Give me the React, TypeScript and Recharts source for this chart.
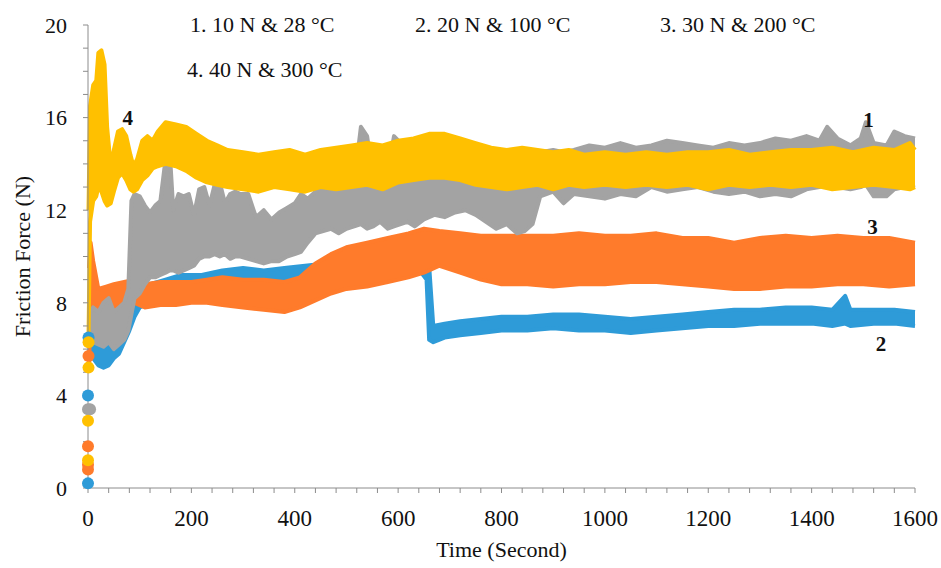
import { ComposedChart, Area, Scatter, XAxis, YAxis, ReferenceDot, Label } from 'recharts'

const FONT = "'Liberation Serif', 'Times New Roman', serif"
const BLUE = '#2e9bd8'
const ORANGE = '#ff7b2b'
const GRAY = '#a3a3a3'
const YELLOW = '#ffc000'
const AXIS = '#8c8c8c'

// series 2 (blue) : 20 N & 100 °C
const blueT = [2, 10, 20, 30, 40, 50, 60, 70, 80, 90, 100, 120, 150, 180, 220, 260, 300, 340, 380, 420, 460, 500, 540, 580, 620, 645, 655, 660, 668, 690, 720, 760, 800, 850, 900, 950, 1000, 1050, 1100, 1150, 1200, 1250, 1300, 1350, 1400, 1440, 1465, 1475, 1520, 1560, 1600]
const blueLo = [6.0, 5.6, 5.3, 5.2, 5.3, 5.6, 5.8, 6.3, 6.8, 7.4, 7.8, 8.0, 8.2, 8.4, 8.5, 8.7, 8.7, 8.6, 8.8, 9.0, 9.1, 9.1, 9.2, 9.3, 9.3, 9.3, 9.0, 6.4, 6.3, 6.5, 6.6, 6.7, 6.8, 6.8, 6.9, 6.8, 6.8, 6.7, 6.8, 6.9, 7.0, 7.0, 7.1, 7.1, 7.1, 7.0, 7.1, 7.0, 7.1, 7.1, 7.0]
const blueHi = [6.8, 6.6, 6.3, 6.1, 6.3, 6.4, 6.7, 7.3, 7.8, 8.3, 8.6, 8.8, 9.0, 9.2, 9.2, 9.4, 9.5, 9.4, 9.5, 9.6, 9.7, 9.7, 9.8, 9.9, 10.0, 9.9, 9.8, 9.6, 7.0, 7.1, 7.2, 7.3, 7.4, 7.4, 7.5, 7.5, 7.4, 7.3, 7.4, 7.5, 7.6, 7.7, 7.7, 7.8, 7.8, 7.7, 8.3, 7.7, 7.7, 7.7, 7.6]

// series 3 (orange) : 30 N & 200 °C
const orangeT = [2, 5, 10, 20, 35, 50, 70, 90, 110, 140, 170, 200, 230, 260, 300, 340, 380, 410, 440, 470, 500, 540, 580, 620, 650, 680, 720, 760, 800, 850, 900, 950, 1000, 1050, 1100, 1150, 1200, 1250, 1300, 1350, 1400, 1450, 1500, 1550, 1600]
const orangeLo = [5.0, 8.0, 8.0, 7.6, 7.7, 7.8, 7.9, 8.0, 7.8, 7.9, 7.9, 8.0, 8.0, 7.9, 7.8, 7.7, 7.6, 7.8, 8.1, 8.4, 8.6, 8.7, 8.9, 9.1, 9.3, 9.6, 9.3, 9.0, 8.8, 8.8, 8.7, 8.8, 8.8, 8.9, 8.9, 8.8, 8.7, 8.6, 8.6, 8.7, 8.7, 8.8, 8.8, 8.7, 8.8]
const orangeHi = [9.5, 10.6, 9.8, 8.6, 8.7, 8.8, 8.9, 9.0, 8.8, 8.9, 8.9, 8.9, 9.0, 9.1, 9.0, 9.0, 8.9, 9.1, 9.7, 10.1, 10.4, 10.6, 10.8, 11.0, 11.2, 11.1, 11.0, 10.9, 10.9, 10.9, 10.9, 11.0, 10.9, 10.9, 11.0, 10.8, 10.8, 10.6, 10.8, 10.9, 10.8, 10.9, 10.8, 10.8, 10.6]

// series 1 (gray) : 10 N & 28 °C
const grayT = [3, 10, 20, 30, 40, 50, 60, 70, 78, 84, 90, 100, 110, 120, 130, 140, 150, 158, 165, 175, 185, 195, 205, 215, 225, 235, 245, 255, 265, 275, 285, 295, 310, 325, 340, 355, 370, 385, 400, 412, 425, 440, 455, 470, 485, 500, 515, 528, 540, 552, 565, 580, 592, 605, 618, 632, 650, 670, 690, 710, 730, 750, 770, 790, 810, 830, 845, 860, 875, 900, 920, 940, 970, 1000, 1030, 1060, 1090, 1120, 1150, 1180, 1210, 1240, 1270, 1300, 1330, 1360, 1390, 1415, 1430, 1450, 1475, 1495, 1505, 1520, 1545, 1560, 1580, 1600]
const grayLo = [6.5, 6.3, 6.2, 6.1, 6.3, 6.0, 6.2, 6.4, 6.8, 7.5, 8.2, 8.4, 8.8, 9.1, 9.1, 9.2, 9.3, 9.4, 9.4, 9.3, 9.4, 9.5, 9.6, 9.9, 10.0, 10.0, 10.1, 10.0, 10.1, 9.9, 10.0, 10.0, 9.9, 9.8, 9.7, 9.8, 9.8, 10.0, 10.1, 10.2, 10.6, 11.0, 11.1, 11.2, 11.0, 11.2, 11.3, 11.4, 11.2, 11.3, 11.5, 11.2, 11.3, 11.4, 11.5, 11.3, 11.6, 11.8, 11.7, 11.9, 12.0, 11.8, 11.5, 11.2, 11.4, 11.0, 11.1, 11.4, 12.6, 12.8, 12.3, 12.7, 12.6, 12.5, 12.7, 12.6, 13.0, 12.8, 12.9, 13.0, 12.8, 12.7, 12.8, 12.6, 12.7, 12.6, 12.9, 13.0, 13.1, 13.0, 12.9, 13.0, 13.1, 12.6, 12.6, 12.9, 13.0, 13.1]
const grayHi = [7.5, 7.8, 7.6, 8.0, 8.2, 7.6, 7.8, 8.0, 8.6, 12.4, 12.7, 12.6, 12.2, 11.9, 12.2, 12.4, 14.2, 14.6, 12.0, 12.7, 12.6, 12.7, 11.8, 12.9, 13.0, 12.2, 13.1, 13.2, 12.3, 12.7, 12.8, 12.7, 12.7, 11.7, 12.0, 11.6, 11.9, 12.1, 12.3, 12.7, 12.5, 12.8, 13.0, 12.9, 13.1, 12.9, 13.2, 15.6, 15.2, 13.3, 13.2, 13.6, 15.2, 14.9, 14.4, 14.0, 14.0, 13.9, 14.0, 14.1, 14.1, 14.2, 14.2, 14.3, 14.2, 14.3, 14.4, 14.3, 14.5, 14.6, 14.5, 14.6, 14.8, 14.7, 14.9, 14.7, 14.8, 15.0, 14.9, 14.8, 14.7, 14.9, 14.8, 14.9, 15.1, 15.0, 15.2, 15.0, 15.6, 15.1, 14.8, 15.1, 15.8, 14.9, 14.8, 15.4, 15.2, 15.1]

// series 4 (yellow) : 40 N & 300 °C
const yellowT = [1, 4, 10, 16, 20, 26, 32, 37, 44, 50, 58, 66, 74, 82, 88, 95, 105, 115, 125, 135, 150, 170, 190, 210, 230, 250, 270, 300, 330, 360, 390, 420, 450, 480, 510, 540, 570, 600, 630, 660, 690, 720, 750, 780, 810, 840, 870, 900, 930, 960, 1000, 1040, 1080, 1120, 1160, 1200, 1240, 1280, 1320, 1360, 1400, 1440, 1480, 1520, 1560, 1590, 1600]
const yellowLo = [6.5, 11.5, 12.4, 12.6, 13.0, 12.8, 12.4, 12.2, 12.3, 12.8, 13.4, 13.6, 13.3, 12.9, 12.8, 12.9, 13.3, 13.5, 13.8, 13.9, 14.0, 13.9, 13.7, 13.4, 13.2, 13.1, 13.0, 12.9, 12.8, 13.0, 12.9, 12.8, 13.0, 12.9, 13.0, 13.1, 12.9, 13.2, 13.3, 13.4, 13.4, 13.3, 13.1, 13.0, 12.9, 13.0, 13.1, 12.9, 13.1, 13.0, 13.1, 13.0, 13.1, 13.0, 13.1, 12.9, 13.1, 13.0, 13.1, 13.0, 13.1, 12.9, 13.0, 13.1, 13.0, 12.9, 13.0]
const yellowHi = [12.0, 16.5, 17.4, 17.6, 18.8, 18.9, 18.3, 15.6, 13.9, 14.6, 15.4, 15.5, 15.2, 14.4, 13.9, 14.2, 15.0, 15.2, 15.0, 15.4, 15.8, 15.7, 15.6, 15.3, 15.0, 14.8, 14.6, 14.5, 14.4, 14.5, 14.6, 14.4, 14.6, 14.7, 14.8, 14.9, 14.8, 15.0, 15.1, 15.3, 15.3, 15.1, 14.9, 14.7, 14.6, 14.7, 14.6, 14.5, 14.6, 14.4, 14.5, 14.4, 14.5, 14.4, 14.5, 14.5, 14.6, 14.4, 14.5, 14.6, 14.6, 14.7, 14.5, 14.7, 14.6, 14.9, 14.6]

// start-up readings near t = 0
const blueDots = [[0, 0.2], [0, 4.0], [1, 6.5]]
const orangeDots = [[0, 0.8], [0, 1.0], [0, 1.8], [1, 5.7]]
const grayDots = [[0, 3.4], [4, 3.4]]
const yellowDots = [[0, 1.2], [0, 2.9], [1, 5.2], [1, 6.3]]

const legendItems = ['1. 10 N & 28 °C', '2. 20 N & 100 °C', '3. 30 N & 200 °C', '4. 40 N & 300 °C']
const yTicks = Array.from({ length: 21 }, (_, i) => i)
const xTicks = Array.from({ length: 41 }, (_, i) => i * 40)

const band = (t: number[], lo: number[], hi: number[]) => t.map((x, i) => ({ t: x, r: [lo[i], hi[i]] }))
const dots = (d: number[][]) => d.map(([t, v]) => ({ t, v }))

const dot = (color: string) => (p: any) => <circle cx={p.cx} cy={p.cy} r={6} fill={color} />

const seriesLabel = (text: string) => ({
  value: text,
  position: 'center' as const,
  style: { fontSize: 21, fontWeight: 'bold', fill: '#111' },
})

const areaProps = {
  dataKey: 'r',
  type: 'linear' as const,
  fillOpacity: 1,
  strokeWidth: 4,
  strokeLinejoin: 'round' as const,
  dot: false,
  activeDot: false,
  isAnimationActive: false,
}

export default function App() {
  return (
    <div style={{ position: 'absolute', left: 0, top: 0, width: 941, height: 568, background: '#fff', fontFamily: FONT }}>
      <style>{`svg text { font-family: ${FONT} !important; }`}</style>
      <ComposedChart width={941} height={568} margin={{ top: 25, right: 26, bottom: 40, left: 28 }} style={{ fontFamily: FONT }}>
        <XAxis
          type="number"
          dataKey="t"
          domain={[0, 1600]}
          ticks={xTicks}
          interval={0}
          height={40}
          tickFormatter={(v) => (v % 200 === 0 ? String(v) : '')}
          stroke={AXIS}
          tickSize={5}
          tickMargin={17}
          tick={{ fill: '#111', fontSize: 23 }}
        >
          <Label value="Time (Second)" position="bottom" offset={13} style={{ fill: '#111', fontSize: 22 }} />
        </XAxis>
        <YAxis
          type="number"
          domain={[0, 20]}
          ticks={yTicks}
          interval={0}
          width={60}
          tickFormatter={(v) => (v % 4 === 0 ? String(v) : '')}
          stroke={AXIS}
          tickSize={5}
          tickMargin={16}
          tick={{ fill: '#111', fontSize: 22 }}
        >
          <Label value="Friction Force (N)" angle={-90} position="left" offset={6} style={{ fill: '#111', fontSize: 22, textAnchor: 'middle' }} />
        </YAxis>

        <Area {...areaProps} data={band(blueT, blueLo, blueHi)} fill={BLUE} stroke={BLUE} />
        <Area {...areaProps} data={band(orangeT, orangeLo, orangeHi)} fill={ORANGE} stroke={ORANGE} />
        <Area {...areaProps} data={band(grayT, grayLo, grayHi)} fill={GRAY} stroke={GRAY} />
        <Area {...areaProps} data={band(yellowT, yellowLo, yellowHi)} fill={YELLOW} stroke={YELLOW} />

        <Scatter data={dots(blueDots)} dataKey="v" shape={dot(BLUE)} isAnimationActive={false} />
        <Scatter data={dots(orangeDots)} dataKey="v" shape={dot(ORANGE)} isAnimationActive={false} />
        <Scatter data={dots(grayDots)} dataKey="v" shape={dot(GRAY)} isAnimationActive={false} />
        <Scatter data={dots(yellowDots)} dataKey="v" shape={dot(YELLOW)} isAnimationActive={false} />

        <ReferenceDot x={77} y={16.0} r={0} ifOverflow="visible" label={seriesLabel('4')} />
        <ReferenceDot x={1510} y={15.9} r={0} ifOverflow="visible" label={seriesLabel('1')} />
        <ReferenceDot x={1518} y={11.3} r={0} ifOverflow="visible" label={seriesLabel('3')} />
        <ReferenceDot x={1534} y={6.25} r={0} ifOverflow="visible" label={seriesLabel('2')} />
      </ComposedChart>
      <svg width={941} height={100} style={{ position: 'absolute', left: 0, top: 0, pointerEvents: 'none' }}>
        <g fontSize={22} fill="#111">
          <text x={190} y={32}>{legendItems[0]}</text>
          <text x={415} y={32}>{legendItems[1]}</text>
          <text x={660} y={32}>{legendItems[2]}</text>
          <text x={187} y={77}>{legendItems[3]}</text>
        </g>
      </svg>
    </div>
  )
}
